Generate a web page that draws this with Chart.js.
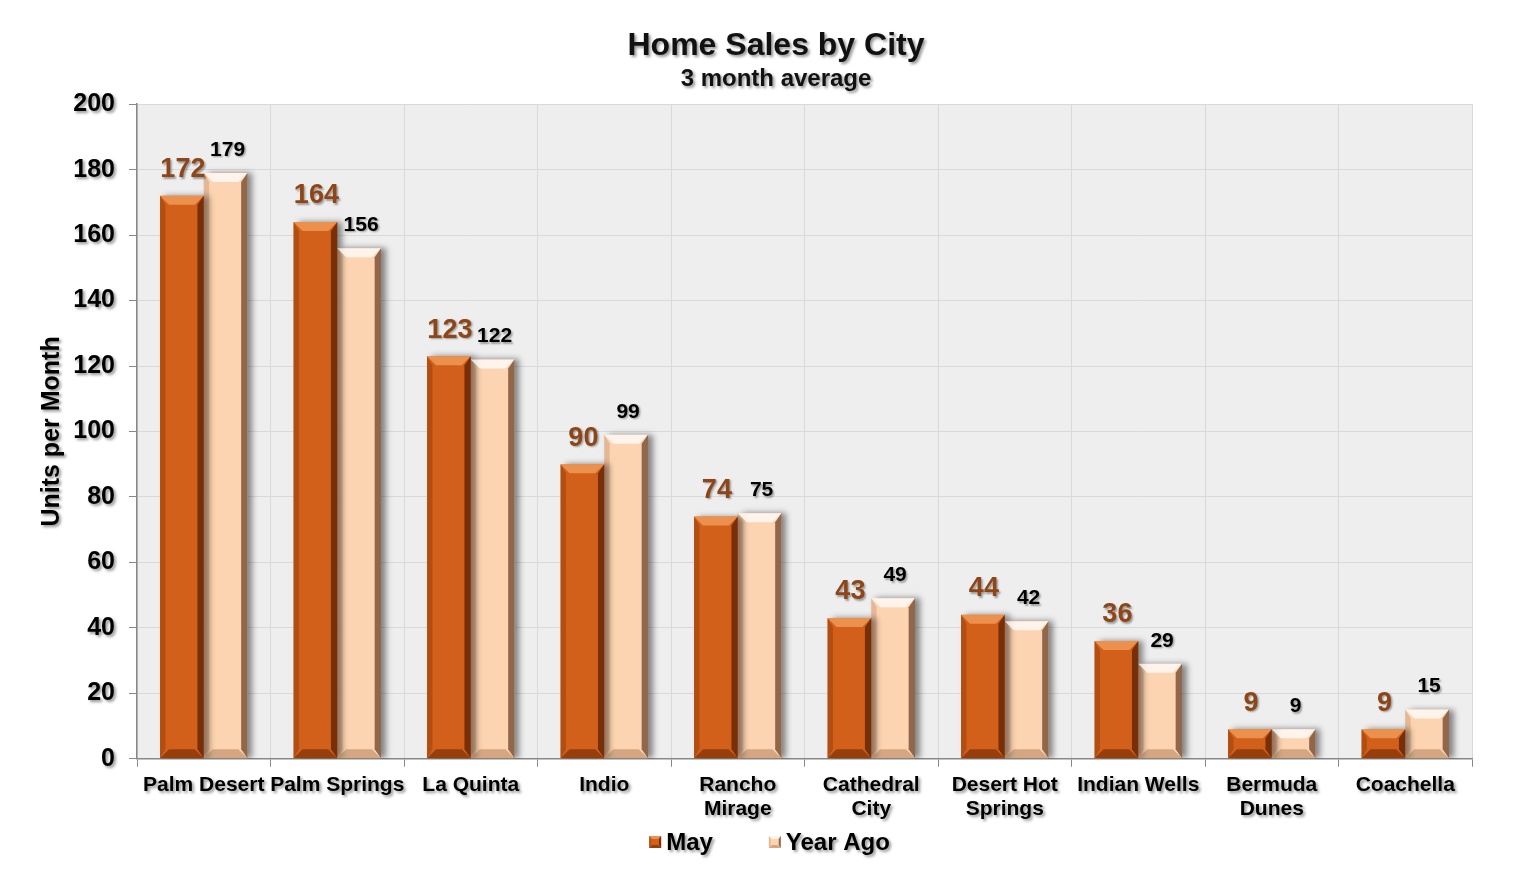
<!DOCTYPE html>
<html>
<head>
<meta charset="utf-8">
<script src="https://cdn.jsdelivr.net/npm/chart.js@4"></script>
<style>
html,body{margin:0;padding:0;background:#fff;}
#wrap{width:1531px;height:873px;position:relative;}
</style>
</head>
<body>
<div id="wrap"><canvas id="c"></canvas></div>
<script>
const categories = [
  'Palm Desert', 'Palm Springs', 'La Quinta', 'Indio', ['Rancho', 'Mirage'],
  ['Cathedral', 'City'], ['Desert Hot', 'Springs'], 'Indian Wells', ['Bermuda', 'Dunes'], 'Coachella'
];
const mayValues = [172, 164, 123, 90, 74, 43, 44, 36, 9, 9];
const yearAgoValues = [179, 156, 122, 99, 75, 49, 42, 29, 9, 15];
const seriesNames = ['May', 'Year Ago'];
const yTicks = [0, 20, 40, 60, 80, 100, 120, 140, 160, 180, 200];

const FONT = "'Liberation Sans', Arial, sans-serif";
const MAY_COLOR = '#D2601A';
const YA_COLOR = '#FDD4B1';

function setTextShadow(ctx) {
  ctx.shadowColor = 'rgba(0,0,0,0.42)';
  ctx.shadowOffsetX = 2;
  ctx.shadowOffsetY = 2;
  ctx.shadowBlur = 3;
}

const bgPlugin = {
  id: 'plotBg',
  beforeDraw(chart) {
    const {ctx, chartArea: a} = chart;
    ctx.save();
    ctx.fillStyle = '#EEEEEE';
    ctx.fillRect(a.left, a.top, a.right - a.left, a.bottom - a.top);
    ctx.restore();
    // give text drawn by scales and title boxes a soft shadow
    const scales = Object.values(chart.scales);
    scales.forEach(s => {
      if (s._shadowPatched) return;
      s._shadowPatched = true;
      ['drawLabels', 'drawTitle'].forEach(fn => {
        const orig = s[fn].bind(s);
        s[fn] = function (...args) {
          const c = this.ctx; c.save(); setTextShadow(c); orig(...args); c.restore();
        };
      });
    });
    chart.boxes.forEach(b => {
      if (scales.includes(b) || b._shadowPatched) return;
      b._shadowPatched = true;
      const orig = b.draw.bind(b);
      b.draw = function (...args) {
        const c = this.ctx; c.save(); setTextShadow(c); orig(...args); c.restore();
      };
    });
  }
};

const shadowPlugin = {
  id: 'barShadow',
  beforeDatasetDraw(chart) {
    const ctx = chart.ctx;
    ctx.save();
    ctx.shadowColor = 'rgba(0,0,0,0.45)';
    ctx.shadowOffsetX = 5;
    ctx.shadowOffsetY = 0;
    ctx.shadowBlur = 6;
  },
  afterDatasetDraw(chart) {
    chart.ctx.restore();
  }
};

function poly(ctx, pts, fill) {
  ctx.beginPath();
  ctx.moveTo(pts[0][0], pts[0][1]);
  for (let i = 1; i < pts.length; i++) ctx.lineTo(pts[i][0], pts[i][1]);
  ctx.closePath();
  ctx.fillStyle = fill;
  ctx.fill();
}

const BEVEL_STYLES = [
  {top: 'rgba(255,185,120,0.55)', left: 'rgba(120,45,5,0.35)', right: 'rgba(90,30,0,0.75)', bottom: 'rgba(90,30,0,0.5)'},
  {top: 'rgba(255,255,255,0.75)', left: 'rgba(150,100,70,0.25)', right: 'rgba(110,65,40,0.75)', bottom: 'rgba(150,100,60,0.4)'}
];

function bevelRect(ctx, l, t, r, b, bv, st) {
  poly(ctx, [[l, t], [r, t], [r - bv, t + bv], [l + bv, t + bv]], st.top);
  poly(ctx, [[l, b], [l + bv, b - bv], [r - bv, b - bv], [r, b]], st.bottom);
  poly(ctx, [[l, t], [l + bv * 0.6, t + bv], [l + bv * 0.6, b - bv], [l, b]], st.left);
  poly(ctx, [[r, t], [r - bv * 0.7, t + bv], [r - bv * 0.7, b - bv], [r, b]], st.right);
}

const bevelPlugin = {
  id: 'bevel',
  afterDatasetsDraw(chart) {
    const ctx = chart.ctx;
    chart.data.datasets.forEach((ds, di) => {
      const meta = chart.getDatasetMeta(di);
      meta.data.forEach(bar => {
        const p = bar.getProps(['x', 'y', 'base', 'width'], true);
        const l = p.x - p.width / 2, r = p.x + p.width / 2, t = p.y, b = p.base;
        const bv = Math.min(9, (b - t) / 2.5);
        ctx.save();
        bevelRect(ctx, l, t, r, b, bv, BEVEL_STYLES[di]);
        ctx.restore();
      });
    });
  }
};

const labelPlugin = {
  id: 'valueLabels',
  afterDatasetsDraw(chart) {
    const ctx = chart.ctx;
    chart.data.datasets.forEach((ds, di) => {
      const meta = chart.getDatasetMeta(di);
      meta.data.forEach((bar, i) => {
        const p = bar.getProps(['x', 'y'], true);
        ctx.save();
        ctx.textAlign = 'center';
        ctx.textBaseline = 'middle';
        ctx.shadowColor = 'rgba(0,0,0,0.35)';
        ctx.shadowOffsetX = 1.5;
        ctx.shadowOffsetY = 1.5;
        ctx.shadowBlur = 2;
        if (di === 0) {
          ctx.font = 'bold 27px ' + FONT;
          ctx.fillStyle = '#8E4618';
          ctx.fillText(String(ds.data[i]), p.x + 1, p.y - 26);
        } else {
          ctx.font = 'bold 21px ' + FONT;
          ctx.fillStyle = '#000';
          ctx.fillText(String(ds.data[i]), p.x + 2, p.y - 23);
        }
        ctx.restore();
      });
    });
  }
};

const legendPlugin = {
  id: 'bottomLegend',
  afterDraw(chart) {
    const ctx = chart.ctx;
    const box = 12, gapText = 5, gapItem = 56;
    ctx.save();
    ctx.font = 'bold 24px ' + FONT;
    const items = chart.data.datasets.map((ds, di) => ({
      text: ds.label, color: ds.backgroundColor, w: ctx.measureText(ds.label).width, di
    }));
    const total = items.reduce((s, it) => s + box + gapText + it.w, 0) + gapItem * (items.length - 1);
    let x = chart.width / 2 + 4 - total / 2;
    const y = 842;
    items.forEach(it => {
      ctx.save();
      ctx.fillStyle = it.color;
      ctx.fillRect(x, y - box / 2, box, box);
      bevelRect(ctx, x, y - box / 2, x + box, y + box / 2, 3, BEVEL_STYLES[it.di]);
      ctx.restore();
      ctx.save();
      setTextShadow(ctx);
      ctx.fillStyle = '#000';
      ctx.textAlign = 'left';
      ctx.textBaseline = 'middle';
      ctx.fillText(it.text, x + box + gapText, y + 1);
      ctx.restore();
      x += box + gapText + it.w + gapItem;
    });
    ctx.restore();
  }
};

new Chart(document.getElementById('c'), {
  type: 'bar',
  data: {
    labels: categories,
    datasets: [
      {label: seriesNames[0], data: mayValues, backgroundColor: MAY_COLOR, borderWidth: 0,
       barPercentage: 1.0, categoryPercentage: 0.655},
      {label: seriesNames[1], data: yearAgoValues, backgroundColor: YA_COLOR, borderWidth: 0,
       barPercentage: 1.0, categoryPercentage: 0.655}
    ]
  },
  options: {
    responsive: true,
    maintainAspectRatio: false,
    animation: false,
    layout: {padding: {left: 37, right: 16, top: 0, bottom: 46}},
    plugins: {
      title: {
        display: true,
        text: 'Home Sales by City',
        color: '#111',
        font: {family: FONT, size: 32, weight: 'bold'},
        padding: {top: 27, bottom: 0}
      },
      subtitle: {
        display: true,
        text: '3 month average',
        color: '#111',
        font: {family: FONT, size: 24, weight: 'bold'},
        padding: {top: 0, bottom: 10}
      },
      legend: {display: false},
      tooltip: {enabled: false}
    },
    scales: {
      x: {
        offset: true,
        grid: {display: true, offset: true, color: '#D9D9D9', tickColor: '#888', tickLength: 8, drawTicks: true},
        border: {color: '#888', width: 1.5},
        ticks: {color: '#000', font: {family: FONT, size: 21, weight: 'bold', lineHeight: 1.15}, padding: 6, maxRotation: 0, autoSkip: false}
      },
      y: {
        min: 0,
        max: 200,
        afterBuildTicks(axis) { axis.ticks = yTicks.map(v => ({value: v})); },
        afterFit(axis) { axis.width = 100; },
        grid: {color: '#D9D9D9', tickColor: '#888', tickLength: 8},
        border: {color: '#888', width: 1.5},
        ticks: {color: '#000', font: {family: FONT, size: 25, weight: 'bold'}, padding: 14},
        title: {display: true, text: 'Units per Month', color: '#000',
                font: {family: FONT, size: 25, weight: 'bold'}, padding: {top: 0, bottom: 4}}
      },
      yRight: {
        type: 'linear',
        position: 'right',
        display: true,
        afterFit(axis) { axis.width = 43; },
        grid: {display: false},
        border: {display: false},
        ticks: {display: false}
      }
    }
  },
  plugins: [bgPlugin, shadowPlugin, bevelPlugin, labelPlugin, legendPlugin]
});
</script>
</body>
</html>
